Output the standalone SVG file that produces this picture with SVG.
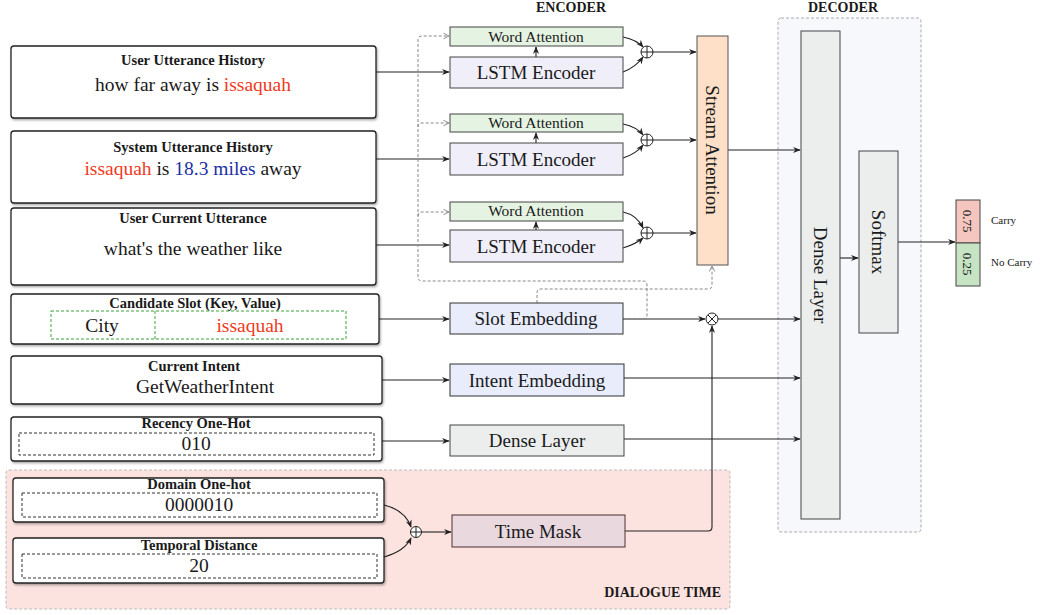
<svg xmlns="http://www.w3.org/2000/svg" width="1042" height="615" viewBox="0 0 1042 615">
<defs>
<style>
text{font-family:"Liberation Serif","Times New Roman",serif;fill:#1a1a1a}
.ttl{font-weight:bold;font-size:14.5px;text-anchor:middle}
.big{font-size:19.5px;text-anchor:middle}
.mid{font-size:19px;text-anchor:middle}
.wa{font-size:15.5px;text-anchor:middle}
.hdr{font-weight:bold;font-size:14px;text-anchor:middle}
.red{fill:#f03a1e}
.blue{fill:#1c2fa3}
.inbox{fill:#fff;stroke:#222;stroke-width:1.3}
.dash{fill:none;stroke:#333;stroke-width:1;stroke-dasharray:3,2}
.gdash{fill:none;stroke:#3da23d;stroke-width:1;stroke-dasharray:3,2}
.lstm{fill:#f0eff9;stroke:#444;stroke-width:1}
.watt{fill:#e5f3e3;stroke:#444;stroke-width:1}
.emb{fill:#e8ecfb;stroke:#333;stroke-width:1}
.gray{fill:#eceeee;stroke:#444;stroke-width:1}
.conn{fill:none;stroke:#222;stroke-width:1.1}
.dconn{fill:none;stroke:#888;stroke-width:1;stroke-dasharray:3,2}
.op{fill:#fff;stroke:#222;stroke-width:1}
</style>
<marker id="ar" viewBox="0 0 10 10" refX="9" refY="5" markerWidth="7" markerHeight="7" orient="auto">
<path d="M0,1 L10,5 L0,9 L3,5 z" fill="#222"/>
</marker>
<marker id="oar" viewBox="0 0 10 10" refX="9" refY="5" markerWidth="7" markerHeight="7" orient="auto">
<path d="M1,1 L9,5 L1,9" fill="none" stroke="#888" stroke-width="1.3"/>
</marker>
<filter id="sh" x="-5%" y="-10%" width="110%" height="130%">
<feDropShadow dx="1" dy="1.5" stdDeviation="1" flood-color="#000" flood-opacity="0.35"/>
</filter>
</defs>
<rect width="1042" height="615" fill="#fff"/>

<!-- regions -->
<g id="region-decoder">
<rect x="778" y="18" width="143" height="514" rx="3" fill="#f7f8fc" stroke="#aaa" stroke-width="1" stroke-dasharray="3,2"/>
<text class="hdr" x="843" y="12">DECODER</text>
</g>
<g id="region-time">
<rect x="6" y="470" width="724" height="139" rx="3" fill="#fde3df" stroke="#bbb" stroke-width="1" stroke-dasharray="3,2"/>
<text class="hdr" x="721" y="597" style="text-anchor:end">DIALOGUE TIME</text>
</g>
<text class="hdr" x="571" y="12">ENCODER</text>

<!-- connectors -->
<g id="connectors">
<path class="conn" d="M376,72 H449" marker-end="url(#ar)"/>
<path class="conn" d="M376,159 H449" marker-end="url(#ar)"/>
<path class="conn" d="M376,245 H449" marker-end="url(#ar)"/>
<path class="conn" d="M379,319 H449" marker-end="url(#ar)"/>
<path class="conn" d="M382,380 H449" marker-end="url(#ar)"/>
<path class="conn" d="M382,441 H449" marker-end="url(#ar)"/>
<path class="conn" d="M536,57 V47" marker-end="url(#ar)"/>
<path class="conn" d="M536,143 V133" marker-end="url(#ar)"/>
<path class="conn" d="M536,230 V222" marker-end="url(#ar)"/>
<path class="conn" d="M623,37 Q637,40 643,47" marker-end="url(#ar)"/>
<path class="conn" d="M623,72 Q636,67 643,57" marker-end="url(#ar)"/>
<path class="conn" d="M623,124 Q637,127 643,135" marker-end="url(#ar)"/>
<path class="conn" d="M623,158 Q636,154 643,145" marker-end="url(#ar)"/>
<path class="conn" d="M623,212 Q637,215 643,228" marker-end="url(#ar)"/>
<path class="conn" d="M623,248 Q636,244 643,238" marker-end="url(#ar)"/>
<path class="conn" d="M653,52 H696" marker-end="url(#ar)"/>
<path class="conn" d="M653,140 H696" marker-end="url(#ar)"/>
<path class="conn" d="M653,233 H696" marker-end="url(#ar)"/>
<path class="conn" d="M728,150 H800" marker-end="url(#ar)"/>
<path class="conn" d="M623,319 H705" marker-end="url(#ar)"/>
<path class="conn" d="M718,319 H800" marker-end="url(#ar)"/>
<path class="conn" d="M624,378 H800" marker-end="url(#ar)"/>
<path class="conn" d="M624,439 H800" marker-end="url(#ar)"/>
<path class="conn" d="M840,258 H858" marker-end="url(#ar)"/>
<path class="conn" d="M898,242 H955" marker-end="url(#ar)"/>
<path class="conn" d="M625,531 H708 Q712,531 712,527 V326" marker-end="url(#ar)"/>
<path class="conn" d="M384,505 Q405,510 411,527" marker-end="url(#ar)"/>
<path class="conn" d="M384,557 Q405,551 411,538" marker-end="url(#ar)"/>
<path class="conn" d="M421,532 H451" marker-end="url(#ar)"/>
<!-- dashed -->
<path class="dconn" d="M623,319 H643 Q647,319 647,315 V285 Q647,281 643,281 H422 Q418,281 418,277 V40 Q418,36 422,36 H449" marker-end="url(#oar)"/>
<path class="dconn" d="M418,127 Q418,123 422,123 H449" marker-end="url(#oar)"/>
<path class="dconn" d="M418,216 Q418,212 422,212 H449" marker-end="url(#oar)"/>
<path class="dconn" d="M537,303 V293 Q537,289 541,289 H708 Q712,289 712,285 V266" marker-end="url(#oar)"/>
</g>

<!-- input nodes -->
<g id="user-utterance-history">
<rect class="inbox" x="11" y="46" width="365" height="72" rx="3" filter="url(#sh)"/>
<text class="ttl" x="193" y="65">User Utterance History</text>
<text class="big" x="193" y="91">how far away is <tspan class="red">issaquah</tspan></text>
</g>
<g id="system-utterance-history">
<rect class="inbox" x="11" y="131" width="365" height="72" rx="3" filter="url(#sh)"/>
<text class="ttl" x="193" y="152">System Utterance History</text>
<text class="big" x="193" y="175"><tspan class="red">issaquah</tspan> is <tspan class="blue">18.3 miles</tspan> away</text>
</g>
<g id="user-current-utterance">
<rect class="inbox" x="11" y="208" width="365" height="77" rx="3" filter="url(#sh)"/>
<text class="ttl" x="193" y="223">User Current Utterance</text>
<text class="big" x="193" y="255">what's the weather like</text>
</g>
<g id="candidate-slot">
<rect class="inbox" x="11" y="294" width="368" height="50" rx="3" filter="url(#sh)"/>
<text class="ttl" x="195" y="308">Candidate Slot (Key, Value)</text>
<rect class="gdash" x="51" y="311" width="295" height="28"/>
<line class="gdash" x1="155" y1="311" x2="155" y2="339"/>
<text class="big" x="102" y="332">City</text>
<text class="big red" x="250" y="332">issaquah</text>
</g>
<g id="current-intent">
<rect class="inbox" x="11" y="356" width="371" height="48" rx="3" filter="url(#sh)"/>
<text class="ttl" x="194" y="371">Current Intent</text>
<text class="big" x="205" y="393">GetWeatherIntent</text>
</g>
<g id="recency-one-hot">
<rect class="inbox" x="11" y="417" width="371" height="44" rx="3" filter="url(#sh)"/>
<text class="ttl" x="196" y="428">Recency One-Hot</text>
<rect class="dash" x="19" y="433" width="355" height="22"/>
<text class="big" x="196" y="450">010</text>
</g>
<g id="domain-one-hot">
<rect class="inbox" x="13" y="478" width="371" height="44" rx="3" filter="url(#sh)"/>
<text class="ttl" x="199" y="489">Domain One-hot</text>
<rect class="dash" x="22" y="493" width="355" height="24"/>
<text class="big" x="199" y="511">0000010</text>
</g>
<g id="temporal-distance">
<rect class="inbox" x="13" y="538" width="371" height="45" rx="3" filter="url(#sh)"/>
<text class="ttl" x="199" y="550">Temporal Distance</text>
<rect class="dash" x="22" y="554" width="355" height="24"/>
<text class="big" x="199" y="572">20</text>
</g>

<!-- encoder nodes -->
<g id="word-attention-1"><rect class="watt" x="450" y="27" width="173" height="19"/><text class="wa" x="536" y="42">Word Attention</text></g>
<g id="lstm-encoder-1"><rect class="lstm" x="450" y="57" width="173" height="31"/><text class="mid" x="536" y="79">LSTM Encoder</text></g>
<g id="word-attention-2"><rect class="watt" x="450" y="114" width="173" height="18"/><text class="wa" x="536" y="128">Word Attention</text></g>
<g id="lstm-encoder-2"><rect class="lstm" x="450" y="143" width="173" height="32"/><text class="mid" x="536" y="166">LSTM Encoder</text></g>
<g id="word-attention-3"><rect class="watt" x="450" y="202" width="173" height="19"/><text class="wa" x="536" y="216">Word Attention</text></g>
<g id="lstm-encoder-3"><rect class="lstm" x="450" y="230" width="173" height="32"/><text class="mid" x="536" y="253">LSTM Encoder</text></g>
<g id="sum-1"><circle class="op" cx="647" cy="52" r="6"/><path d="M641,52 H653 M647,46 V58" stroke="#222" stroke-width="1"/></g>
<g id="sum-2"><circle class="op" cx="647" cy="140" r="6"/><path d="M641,140 H653 M647,134 V146" stroke="#222" stroke-width="1"/></g>
<g id="sum-3"><circle class="op" cx="647" cy="233" r="6"/><path d="M641,233 H653 M647,227 V239" stroke="#222" stroke-width="1"/></g>
<g id="stream-attention">
<rect x="697" y="36" width="31" height="229" fill="#fde0c7" stroke="#555" stroke-width="1"/>
<text class="mid" transform="translate(706,150) rotate(90)" x="0" y="0">Stream Attention</text>
</g>
<g id="slot-embedding"><rect class="emb" x="450" y="303" width="173" height="31"/><text class="mid" x="536" y="325">Slot Embedding</text></g>
<g id="intent-embedding"><rect class="emb" x="450" y="364" width="174" height="32"/><text class="mid" x="537" y="387">Intent Embedding</text></g>
<g id="dense-layer-small"><rect class="gray" x="450" y="425" width="174" height="31"/><text class="mid" x="537" y="447">Dense Layer</text></g>
<g id="product"><circle class="op" cx="712" cy="319" r="6"/><path d="M708,315 L716,323 M716,315 L708,323" stroke="#222" stroke-width="1"/></g>
<g id="time-sum"><circle class="op" cx="416" cy="532" r="5.5"/><path d="M410.5,532 H421.5 M416,526.5 V537.5" stroke="#222" stroke-width="1"/></g>
<g id="time-mask"><rect x="452" y="515" width="173" height="32" fill="#ead8df" stroke="#4a3030" stroke-width="1"/><text class="mid" x="538" y="538">Time Mask</text></g>

<!-- decoder -->
<g id="dense-layer">
<rect class="gray" x="801" y="31" width="39" height="488"/>
<text class="mid" transform="translate(814,275) rotate(90)" x="0" y="0">Dense Layer</text>
</g>
<g id="softmax">
<rect class="gray" x="859" y="151" width="39" height="182"/>
<text class="mid" transform="translate(872,242) rotate(90)" x="0" y="0">Softmax</text>
</g>
<g id="output">
<rect x="956" y="200" width="24" height="43" fill="#f4c6bf" stroke="#444" stroke-width="1"/>
<rect x="956" y="243" width="24" height="43" fill="#c6e3c3" stroke="#444" stroke-width="1"/>
<text transform="translate(963,221) rotate(90)" x="0" y="0" font-size="13" text-anchor="middle">0.75</text>
<text transform="translate(963,264) rotate(90)" x="0" y="0" font-size="13" text-anchor="middle">0.25</text>
<text x="991" y="224" font-size="11">Carry</text>
<text x="991" y="266" font-size="11">No Carry</text>
</g>
</svg>
